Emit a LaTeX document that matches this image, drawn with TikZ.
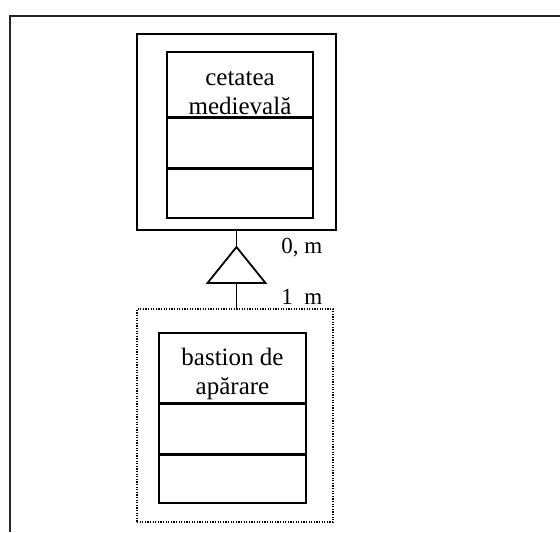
\documentclass[tikz,border=0pt]{standalone}
\usepackage{fontspec}
\setmainfont{Liberation Serif}
\usetikzlibrary{positioning}
\tikzset{>=latex}
\tikzset{
  compbox/.style={draw, line width=0.8pt, inner sep=0pt},
  classtext/.style={align=center, inner sep=0pt,
    font=\fontsize{12.5}{14.8}\selectfont},
  multtext/.style={inner sep=0pt, font=\fontsize{11.5}{13}\selectfont},
}

\begin{document}
\begin{tikzpicture}[x=0.5pt, y=-0.5pt]
        \useasboundingbox (0, 0) rectangle (560, 532); %
        \draw[line width=1.1pt, black!85] (10, 532) -- (10, 16) -- (560, 16); %
        % upper class, solid frame
        \node[draw, line width=1pt, minimum width=99.5pt, minimum
        height=98pt, inner sep=0pt] (cetate) at (236.5, 132) {}; %
        \node[compbox, minimum width=73pt, minimum height=32.5pt]
        (cetname) at (240, 84.5) {}; %
        \node[compbox, minimum width=73pt, minimum height=24.5pt,
        below=0pt of cetname] (cetattr) {}; %
        \node[compbox, minimum width=73pt, minimum height=24.5pt,
        below=0pt of cetattr] (cetop) {}; %
        \node[classtext] (cettext) at (240, 93) {cetatea\\medievală}; %
        % lower class, dotted frame
        \node[draw, line width=0.7pt, dash pattern=on 0.6pt off 0.7pt,
        minimum width=98pt, minimum height=106.5pt, inner sep=0pt]
        (bastion) at (235, 415.5) {}; %
        \node[compbox, minimum width=73.5pt, minimum height=35pt]
        (basname) at (232.5, 368) {}; %
        \node[compbox, minimum width=73.5pt, minimum height=24.5pt,
        below=0pt of basname] (basattr) {}; %
        \node[compbox, minimum width=73.5pt, minimum height=24pt,
        below=0pt of basattr] (basop) {}; %
        \node[classtext] (bastext) at (232.5, 374) {bastion de\\apărare}; %
        % aggregation triangle
        \coordinate (apex) at (236.5, 247); %
        \coordinate (base) at (236.5, 283); %
        \draw[line width=0.9pt] (apex) -- (207.5, 283) -- (265.5, 283) --
        cycle; %
        \draw[line width=0.9pt] (cetate.south) -- (apex); %
        \draw[line width=0.9pt] (base) -- (base |- bastion.north); %
        \node[multtext, anchor=west] (upmult) at (281, 248) {0, m}; %
        \node[multtext, anchor=west] (lowmult) at (281, 299)
        {1\phantom{,} m}; %
      \end{tikzpicture}
\end{document}
